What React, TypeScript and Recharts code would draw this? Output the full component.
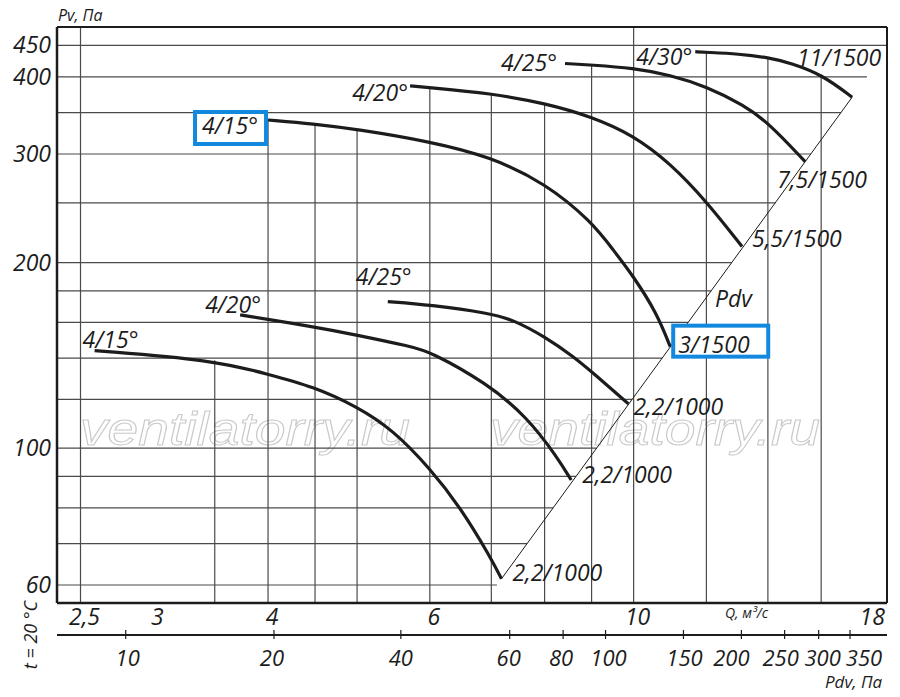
import React from "react";
import { LineChart, Line, XAxis, YAxis, ReferenceLine, ReferenceDot } from "recharts";

type Pt = { q: number; p: number };

// --- data (Q in m3/s, Pv in Pa) ---
const low15: Pt[] = [
  { q: 2.59, p: 144 }, { q: 3.49, p: 139 }, { q: 4.0, p: 131.8 }, { q: 4.48, p: 125.9 },
  { q: 5.0, p: 116.8 }, { q: 5.47, p: 107.1 }, { q: 6.0, p: 92.8 }, { q: 6.47, p: 80.4 },
  { q: 6.98, p: 66.7 }, { q: 7.18, p: 61.4 },
];
const low20: Pt[] = [
  { q: 3.73, p: 164.5 }, { q: 4.48, p: 157.4 }, { q: 5.0, p: 152.6 }, { q: 5.73, p: 146.1 },
  { q: 6.0, p: 143.5 }, { q: 6.92, p: 127.5 }, { q: 7.65, p: 112.5 }, { q: 8.25, p: 96.9 },
  { q: 8.55, p: 88.8 },
];
const low25: Pt[] = [
  { q: 5.4, p: 172.9 }, { q: 6.0, p: 170.8 }, { q: 6.98, p: 165.5 }, { q: 7.4, p: 161.4 },
  { q: 8.0, p: 151.7 }, { q: 8.6, p: 140.8 }, { q: 9.04, p: 132.3 }, { q: 9.87, p: 118 },
];
const high15: Pt[] = [
  { q: 4.0, p: 340.6 }, { q: 4.48, p: 335.7 }, { q: 5.0, p: 329 }, { q: 6.01, p: 314.1 },
  { q: 6.98, p: 297 }, { q: 8.02, p: 268.9 }, { q: 9.0, p: 233 }, { q: 9.5, p: 209.7 },
  { q: 10.0, p: 189.8 }, { q: 10.6, p: 165.5 }, { q: 10.96, p: 146.1 },
];
const high20: Pt[] = [
  { q: 5.71, p: 386.8 }, { q: 6.01, p: 384.3 }, { q: 6.98, p: 376.3 }, { q: 8.02, p: 362.5 },
  { q: 9.0, p: 344.8 }, { q: 9.98, p: 322.1 }, { q: 10.96, p: 289.8 }, { q: 12.01, p: 251.1 },
  { q: 13.12, p: 212.3 },
];
const high25: Pt[] = [
  { q: 8.42, p: 420.6 }, { q: 9.0, p: 418.2 }, { q: 9.98, p: 413.5 }, { q: 10.96, p: 402.9 },
  { q: 12.01, p: 385.8 }, { q: 13.17, p: 360.4 }, { q: 14.04, p: 336.5 }, { q: 15.37, p: 291.5 },
];
const high30: Pt[] = [
  { q: 11.67, p: 439.5 }, { q: 12.01, p: 438.5 }, { q: 13.0, p: 436 }, { q: 14.04, p: 430 },
  { q: 14.85, p: 421 }, { q: 16.06, p: 402.9 }, { q: 17.29, p: 370.8 },
];
const pdvLine: Pt[] = [{ q: 7.18, p: 61.4 }, { q: 17.29, p: 370.8 }];

const bladeNames = ["4/15°", "4/20°", "4/25°", "4/15°", "4/20°", "4/25°", "4/30°"];
const motorNames = ["2,2/1000", "2,2/1000", "2,2/1000", "3/1500", "5,5/1500", "7,5/1500", "11/1500"];
const curves = [low15, low20, low25, high15, high20, high25, high30];

const qTicks = [2.5, 3, 4, 6, 10, 18];
const pTicks = [60, 100, 200, 300, 400, 450];
const qGrid = [2.5, 3.5, 4, 4.5, 5, 6, 7, 8, 9, 10, 12, 14, 16];
const qGridFull = [2.5, 10];
const pGrid = [60, 70, 80, 90, 100, 120, 140, 160, 180, 200, 250, 300, 350, 400, 450];
const pdvLabels = [10, 20, 40, 60, 80, 100, 150, 200, 250, 300, 350];
// where each Pdv mark sits on the Q scale
const pdvTickQ = [2.8, 4.06, 5.58, 7.33, 8.38, 9.32, 11.33, 13.1, 14.6, 15.9, 17.2];

const Q_DOMAIN: [number, number] = [2.357, 18.87];
const P_DOMAIN: [number, number] = [56.1, 482];

// --- label placement (pixels relative to curve start / end / tick) ---
const startLabelPos = [
  { dx: -12, dy: -3, anchor: "start" },
  { dx: -35, dy: -2, anchor: "start" },
  { dx: -32, dy: -17, anchor: "start" },
  { dx: -10, dy: 14, anchor: "end", box: { x: -73, y: -8, w: 71, h: 32 } },
  { dx: -2, dy: 15, anchor: "end" },
  { dx: -8, dy: 8, anchor: "end" },
  { dx: -3, dy: 13, anchor: "end" },
];
const endLabelPos = [
  { dx: 11, dy: 2 },
  { dx: 11, dy: 3 },
  { dx: 5, dy: 11 },
  { dx: 8, dy: 6, box: { x: 3, y: -21, w: 95, h: 31 } },
  { dx: 10, dy: 0 },
  { dx: -28, dy: 26 },
  { dx: -55, dy: -31 },
];
const pdvLabelDx = [2, -2, 0, -1, -2, 3, 1, -10, -4, 4, 14];

const INK = "#1c1c1c";
const GRID = "#4a4a4a";
const BLUE = "#1289de";
const font: React.CSSProperties = {
  fontFamily: "'Open Sans', 'Noto Sans', sans-serif",
  fontStyle: "italic",
  fontSize: 23,
  fill: INK,
};

const lg = Math.log;
function interp(pts: Pt[], q: number): number | null {
  if (q < pts[0].q - 1e-9 || q > pts[pts.length - 1].q + 1e-9) return null;
  for (let i = 1; i < pts.length; i++) {
    if (q <= pts[i].q + 1e-9) {
      const a = pts[i - 1];
      const b = pts[i];
      const t = (lg(q) - lg(a.q)) / (lg(b.q) - lg(a.q));
      return Math.exp(lg(a.p) + t * (lg(b.p) - lg(a.p)));
    }
  }
  return null;
}
// top of a vertical grid line: the highest curve above it
function envelope(q: number): number {
  if (qGridFull.includes(q)) return P_DOMAIN[1];
  let best: number | null = null;
  curves.forEach((c) => {
    const v = interp(c, q);
    if (v !== null && (best === null || v > best)) best = v;
  });
  return best === null ? P_DOMAIN[1] : best;
}
// right end of a horizontal grid line: the Pdv line
function diagQ(p: number): number {
  const [a, b] = pdvLine;
  const q = Math.exp(lg(a.q) + ((lg(p) - lg(a.p)) * (lg(b.q) - lg(a.q))) / (lg(b.p) - lg(a.p)));
  return Math.min(q, Q_DOMAIN[1]);
}

const QTick = ({ x, y, payload }: any) => (
  <text x={x + 4} y={y + 22} textAnchor="middle" style={font}>
    {String(payload.value).replace(".", ",")}
  </text>
);
const PdvTick = ({ x, y, payload }: any) => {
  const i = pdvTickQ.indexOf(payload.value);
  return (
    <g>
      <line x1={x} x2={x} y1={y - 5} y2={y + 4} stroke={INK} strokeWidth={1.2} />
      <text x={x + (pdvLabelDx[i] || 0)} y={y + 31} textAnchor="middle" style={{ ...font, fontSize: 22 }}>
        {pdvLabels[i]}
      </text>
    </g>
  );
};
const PTick = ({ x, y, payload }: any) => (
  <text x={x} y={y + 8} textAnchor="end" style={font}>
    {payload.value}
  </text>
);

export default function App() {
  return (
    <div style={{ position: "absolute", left: 0, top: 0, width: 900, height: 697, background: "#fff" }}>
      <svg width={900} height={697} style={{ position: "absolute", left: 0, top: 0 }}>
        {[80, 490].map((x) => (
          <text
            key={x}
            x={x}
            y={445}
            textLength={330}
            lengthAdjust="spacingAndGlyphs"
            style={{ fontFamily: "'Liberation Sans', sans-serif", fontStyle: "italic", fontSize: 46 }}
            fill="none"
            stroke="#c9c9c9"
            strokeWidth={1}
          >
            ventilatorry.ru
          </text>
        ))}
      </svg>
      <div style={{ position: "absolute", left: 0, top: 0 }}>
        <LineChart width={900} height={697} margin={{ top: 27, right: 13, bottom: 0, left: 0 }}>
          {qGrid.map((q) => (
            <ReferenceLine
              key={"v" + q}
              segment={[{ x: q, y: P_DOMAIN[0] }, { x: q, y: envelope(q) }]}
              stroke={GRID}
              strokeWidth={1.2}
              ifOverflow="visible"
            />
          ))}
          {pGrid.map((p) => (
            <ReferenceLine
              key={"h" + p}
              segment={[{ x: Q_DOMAIN[0], y: p }, { x: diagQ(p), y: p }]}
              stroke={GRID}
              strokeWidth={1.2}
              ifOverflow="visible"
            />
          ))}
          <ReferenceLine y={P_DOMAIN[1]} stroke={INK} strokeWidth={2} ifOverflow="visible" />
          <ReferenceLine x={Q_DOMAIN[1]} stroke={INK} strokeWidth={2} ifOverflow="visible" />
          <XAxis
            dataKey="q"
            type="number"
            scale="log"
            domain={Q_DOMAIN}
            allowDataOverflow
            ticks={qTicks}
            interval={0}
            height={32}
            tickSize={0}
            tickMargin={0}
            tickLine={false}
            axisLine={{ stroke: INK, strokeWidth: 2.5 }}
            tick={QTick}
          />
          <XAxis
            xAxisId="pdv"
            dataKey="q"
            type="number"
            scale="log"
            domain={Q_DOMAIN}
            allowDataOverflow
            ticks={pdvTickQ}
            interval={0}
            height={62}
            tickSize={0}
            tickMargin={0}
            tickLine={false}
            axisLine={{ stroke: INK, strokeWidth: 2 }}
            tick={PdvTick}
          />
          <YAxis
            type="number"
            scale="log"
            domain={P_DOMAIN}
            allowDataOverflow
            ticks={pTicks}
            interval={0}
            width={57}
            tickSize={0}
            tickMargin={6}
            tickLine={false}
            axisLine={{ stroke: INK, strokeWidth: 2.5 }}
            tick={PTick}
          />
          <Line
            xAxisId="pdv"
            data={pdvLine}
            dataKey="p"
            type="linear"
            stroke={INK}
            strokeWidth={1}
            dot={false}
            isAnimationActive={false}
          />
          {curves.map((c, i) => (
            <Line
              key={"c" + i}
              data={c}
              dataKey="p"
              type="basis"
              stroke={INK}
              strokeWidth={3.2}
              dot={false}
              isAnimationActive={false}
            />
          ))}
          {curves.map((c, i) => {
            const s = startLabelPos[i];
            return (
              <ReferenceDot
                key={"s" + i}
                x={c[0].q}
                y={c[0].p}
                r={0}
                ifOverflow="visible"
                shape={(props: any) => (
                  <g>
                    {s.box && (
                      <rect x={props.cx + s.box.x} y={props.cy + s.box.y} width={s.box.w} height={s.box.h}
                        fill="#fff" stroke={BLUE} strokeWidth={4} />
                    )}
                    <text x={props.cx + s.dx} y={props.cy + s.dy} textAnchor={s.anchor as any} style={font}>
                      {bladeNames[i]}
                    </text>
                  </g>
                )}
              />
            );
          })}
          {curves.map((c, i) => {
            const e = endLabelPos[i];
            const last = c[c.length - 1];
            return (
              <ReferenceDot
                key={"e" + i}
                x={last.q}
                y={last.p}
                r={0}
                ifOverflow="visible"
                shape={(props: any) => (
                  <g>
                    {e.box && (
                      <rect x={props.cx + e.box.x} y={props.cy + e.box.y} width={e.box.w} height={e.box.h}
                        fill="#fff" stroke={BLUE} strokeWidth={4} />
                    )}
                    <text x={props.cx + e.dx} y={props.cy + e.dy} style={font}>
                      {motorNames[i]}
                    </text>
                  </g>
                )}
              />
            );
          })}
        </LineChart>
      </div>
      <svg width={900} height={697} style={{ position: "absolute", left: 0, top: 0, pointerEvents: "none" }}>
        <text x={58} y={21} style={{ ...font, fontSize: 16 }}>Pv, Па</text>
        <text x={725} y={618} style={{ ...font, fontSize: 14 }}>Q, м³/с</text>
        <text x={825} y={688} style={{ ...font, fontSize: 17 }}>Pdv, Па</text>
        <text x={715} y={307} style={font}>Pdv</text>
        <text x={37} y={635} textAnchor="middle" transform="rotate(-90 37 635)" style={{ ...font, fontSize: 18 }}>
          t = 20 °C
        </text>
      </svg>
    </div>
  );
}
